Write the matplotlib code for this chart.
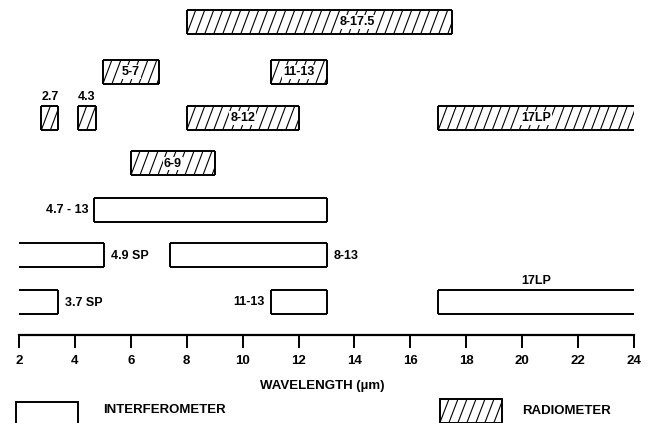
import numpy as np
import matplotlib
matplotlib.use("Agg")
import matplotlib.pyplot as plt
from matplotlib.patches import Rectangle

plt.rcParams['font.family'] = ['Liberation Sans', 'DejaVu Sans']

# radiometer channels (hatched)
rad_start = [8, 5, 11, 2.8, 4.1, 8, 17, 6]
rad_end = [17.5, 7, 13, 3.4, 4.75, 12, 24, 9]
rad_row = [0, 1, 1, 2, 2, 2, 2, 3]
rad_label = ['8-17.5', '5-7', '11-13', '2.7', '4.3', '8-12', '17LP', '6-9']
rad_label_x = [14.1, 6.0, 12.0, 3.1, 4.4, 10.0, 20.5, 7.5]
rad_label_pos = ['in', 'in', 'in', 'above', 'above', 'in', 'in', 'in']
rad_open = [None, None, None, None, None, None, 'right', None]

# interferometer channels (open boxes)
int_start = [4.7, 2.0, 7.4, 2.0, 11.0, 17]
int_end = [13, 5.05, 13, 3.4, 13, 24]
int_row = [4, 5, 5, 6, 6, 6]
int_label = ['4.7 - 13', '4.9 SP', '8-13', '3.7 SP', '11-13', '17LP']
int_label_pos = ['left', 'right', 'right', 'right', 'left', 'above']
int_open = [None, 'left', None, 'left', None, 'right']

ticks = [2, 4, 6, 8, 10, 12, 14, 16, 18, 20, 22, 24]

# pixel layout of the scanned figure
row_y = [22, 72, 118, 163.5, 210, 255, 301.5]
bar_h = 24
px = 22 / (634 - 19)  # data units per pixel along x

fig = plt.figure(figsize=(6.48, 4.23), dpi=100)
ax = fig.add_axes([19 / 648, 1 - 335 / 423, (634 - 19) / 648, 335 / 423])
ax.set_xlim(2, 24)
ax.set_ylim(335, 0)
for s in ['top', 'left', 'right']:
    ax.spines[s].set_visible(False)
ax.spines['bottom'].set_linewidth(1.6)
ax.set_yticks([])
ax.set_xticks(ticks)
ax.tick_params(axis='x', direction='out', length=9.5, width=1.4, pad=5,
               labelsize=9.5)
for t in ax.get_xticklabels():
    t.set_fontweight('bold')

lbl = dict(fontsize=9, fontweight='bold', va='center')


def hatch_lines(rect, x0, x1, y0, h):
    # slanted hatch, steeper than matplotlib's 45 degree hatch
    lean = 9 * px
    for xs in np.arange(x0 - lean, x1 + lean, 9 * px):
        ln, = ax.plot([xs, xs + lean], [y0 + h, y0], color='black', lw=0.8)
        ln.set_clip_path(rect)


def draw_bar(x0, x1, yc, hatched, open_side):
    y0 = yc - bar_h / 2
    rect = Rectangle((x0, y0), x1 - x0, bar_h, facecolor='white',
                     edgecolor='none', linewidth=0, clip_on=False)
    ax.add_patch(rect)
    if hatched:
        hatch_lines(rect, x0, x1, y0, bar_h)
    ax.hlines([y0, y0 + bar_h], x0, x1, color='black', lw=1.4, clip_on=False)
    if open_side != 'left':
        ax.vlines(x0, y0, y0 + bar_h, color='black', lw=1.4, clip_on=False)
    if open_side != 'right':
        ax.vlines(x1, y0, y0 + bar_h, color='black', lw=1.4, clip_on=False)


for i in range(len(rad_start)):
    yc = row_y[rad_row[i]]
    draw_bar(rad_start[i], rad_end[i], yc, True, rad_open[i])
    if rad_label_pos[i] == 'in':
        ax.text(rad_label_x[i], yc, rad_label[i], ha='center', zorder=5,
                bbox=dict(facecolor='white', edgecolor='none', pad=0.6), **lbl)
    else:
        ax.text(rad_label_x[i], yc - bar_h / 2 - 9, rad_label[i], ha='center', **lbl)

for i in range(len(int_start)):
    yc = row_y[int_row[i]]
    draw_bar(int_start[i], int_end[i], yc, False, int_open[i])
    pos = int_label_pos[i]
    if pos == 'left':
        ax.text(int_start[i] - 0.2, yc, int_label[i], ha='right', **lbl)
    elif pos == 'right':
        ax.text(int_end[i] + 0.25, yc + 1, int_label[i], ha='left', **lbl)
    else:
        ax.text((int_start[i] + int_end[i]) / 2, yc - bar_h / 2 - 9,
                int_label[i], ha='center', **lbl)

ax.text(12.85, 386, 'WAVELENGTH (\u00b5m)', ha='center', va='center',
        fontsize=9.5, fontweight='bold', clip_on=False)

# legend
ax.add_patch(Rectangle((2 - 3 * px, 402), 62 * px, 26, facecolor='white',
                       edgecolor='black', lw=1.4, clip_on=False))
ax.text(5.0, 410, 'INTERFEROMETER', ha='left', va='center', fontsize=9.5,
        fontweight='bold', clip_on=False)
leg = Rectangle((2 + 421 * px, 399), 62 * px, 23.5, facecolor='white',
                edgecolor='none', clip_on=False)
ax.add_patch(leg)
hatch_lines(leg, 2 + 421 * px, 2 + 483 * px, 399, 23.5)
ax.add_patch(Rectangle((2 + 421 * px, 399), 62 * px, 23.5, facecolor='none',
                       edgecolor='black', lw=1.4, clip_on=False))
ax.text(20.0, 411, 'RADIOMETER', ha='left', va='center', fontsize=9.5,
        fontweight='bold', clip_on=False)

fig.savefig('out.png', dpi=100)
